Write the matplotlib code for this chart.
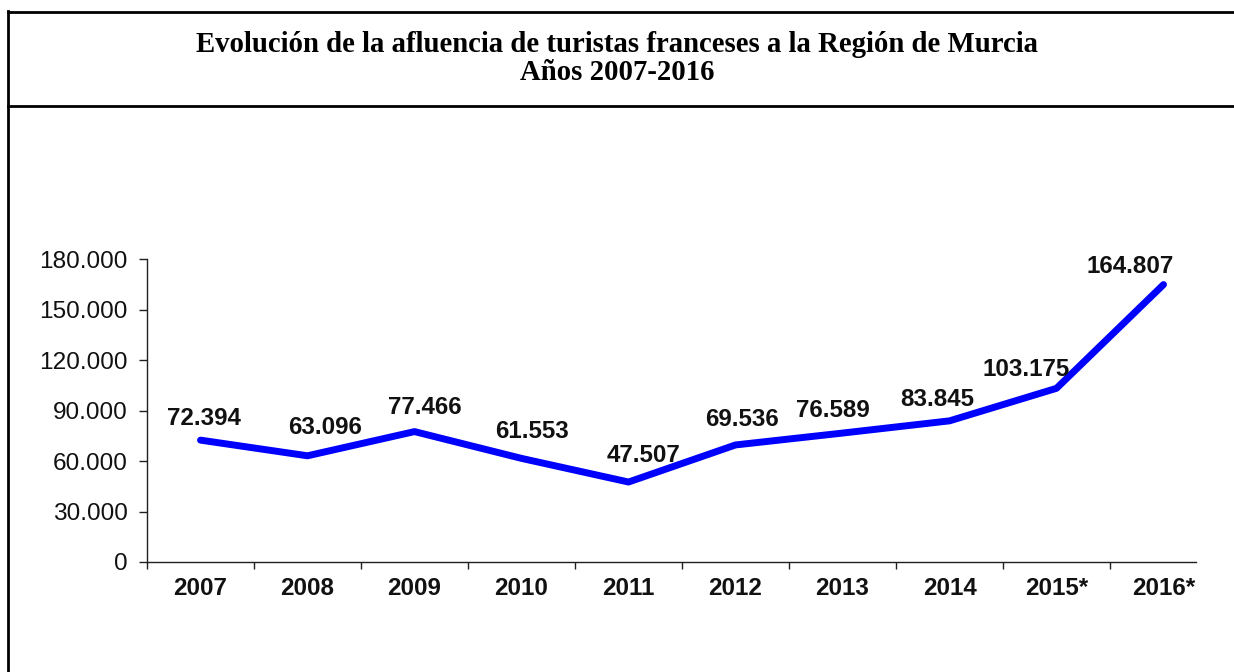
import matplotlib
matplotlib.use("Agg")
import matplotlib.pyplot as plt
from matplotlib.ticker import FuncFormatter, FixedLocator
from matplotlib.lines import Line2D

# ---- data ----
years = ["2007", "2008", "2009", "2010", "2011", "2012", "2013", "2014", "2015*", "2016*"]
tourists = [72394, 63096, 77466, 61553, 47507, 69536, 76589, 83845, 103175, 164807]
yticks = [0, 30000, 60000, 90000, 120000, 150000, 180000]
title_line1 = "Evolución de la afluencia de turistas franceses a la Región de Murcia"
title_line2 = "Años 2007-2016"

# label offsets (pixels) relative to each point
label_dx = [3, 18, 10, 10, 15, 7, -10, -12, -30, -33]
label_dy = [22, 28, 24, 27, 27, 25, 23, 21, 19, 18]

def fmt(v):
    return f"{int(v):,}".replace(",", ".")

W, H = 1234, 672
fig = plt.figure(figsize=(W / 100, H / 100), dpi=100)
fig.patch.set_facecolor("white")

# axes placement
x0, x1 = 147, 1196
y0, y1 = 562, 259
ax = fig.add_axes([x0 / W, 1 - y0 / H, (x1 - x0) / W, (y0 - y1) / H])

xs = list(range(len(years)))
ax.plot(xs, tourists, color="#0000FF", linewidth=5.0, solid_capstyle="round",
        solid_joinstyle="round", zorder=3)

for x, v, dx, dy in zip(xs, tourists, label_dx, label_dy):
    ax.annotate(fmt(v), (x, v), xytext=(dx, dy), textcoords="offset pixels",
                ha="center", va="center", fontsize=17.4, fontweight="bold",
                family="Liberation Sans", color="#111111", zorder=4)

ax.set_xlim(-0.5, -0.5 + (x1 - x0) / 107.0)
ax.set_ylim(0, 180000)
ax.set_yticks(yticks)
ax.yaxis.set_major_formatter(FuncFormatter(lambda v, p: fmt(v)))
ax.set_xticks(xs)
ax.set_xticklabels(years)
ax.xaxis.set_minor_locator(FixedLocator([i - 0.5 for i in range(len(years))]))

for s in ["top", "right"]:
    ax.spines[s].set_visible(False)
for s in ["left", "bottom"]:
    ax.spines[s].set_color("#202020")
    ax.spines[s].set_linewidth(1.0)

ax.tick_params(axis="y", direction="out", length=6, width=1, color="#202020",
               pad=8, labelsize=17.6, labelcolor="#111111")
ax.tick_params(axis="x", which="major", length=0, pad=11, labelsize=17.4,
               labelcolor="#111111")
ax.tick_params(axis="x", which="minor", direction="out", length=5, width=1,
               color="#202020")
for lab in ax.get_yticklabels():
    lab.set_family("Liberation Sans")
for lab in ax.get_xticklabels():
    lab.set_family("Liberation Sans")
    lab.set_fontweight("bold")

# frame lines
lw = 2.0
fig.add_artist(Line2D([8 / W, 8 / W], [1 - 11 / H, 0], color="black", linewidth=lw,
                      transform=fig.transFigure))
fig.add_artist(Line2D([8 / W, 1], [1 - 12 / H, 1 - 12 / H], color="black",
                      linewidth=lw, transform=fig.transFigure))
fig.add_artist(Line2D([8 / W, 1], [1 - 106 / H, 1 - 106 / H], color="black",
                      linewidth=lw, transform=fig.transFigure))

fig.text(0.5, 1 - 44 / H, title_line1, ha="center", va="center", fontsize=20.7,
         fontweight="bold", family="Liberation Serif")
fig.text(0.5, 1 - 73 / H, title_line2, ha="center", va="center", fontsize=20.7,
         fontweight="bold", family="Liberation Serif")

fig.savefig("out.png", dpi=100, facecolor="white")
